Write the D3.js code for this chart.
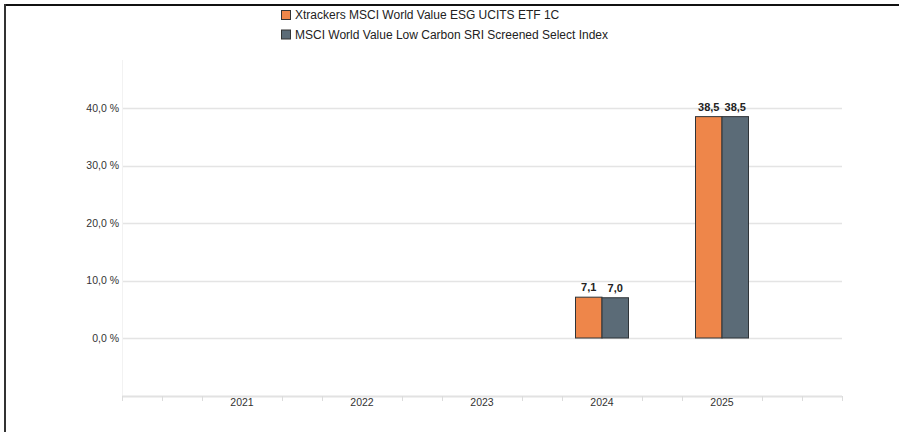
<!DOCTYPE html>
<html>
<head>
<meta charset="utf-8">
<script src="https://cdn.jsdelivr.net/npm/d3@7"></script>
<style>
  body { margin: 0; background: #fff; }
  svg { font-family: "Liberation Sans", Arial, sans-serif; }
</style>
</head>
<body>
<div id="chart"></div>
<script>
var years = ['2021', '2022', '2023', '2024', '2025'];
var seriesNames = ['Xtrackers MSCI World Value ESG UCITS ETF 1C', 'MSCI World Value Low Carbon SRI Screened Select Index'];
var fundValues = [null, null, null, 7.1, 38.5];
var indexValues = [null, null, null, 7.0, 38.5];
var yTicks = [0, 10, 20, 30, 40];
var colors = ['#ee864a', '#5b6b77'];

var svg = d3.select('#chart')
  .append('svg')
  .attr('width', 899)
  .attr('height', 432);

// frame lines
svg.append('line').attr('x1', 5).attr('x2', 899).attr('y1', 5).attr('y2', 5)
  .attr('stroke', '#111').attr('stroke-width', 2);
svg.append('line').attr('x1', 5).attr('x2', 5).attr('y1', 4).attr('y2', 432)
  .attr('stroke', '#333').attr('stroke-width', 2);

var left = 122, right = 842;
var xScale = d3.scaleBand().domain(years).range([left, right]).paddingOuter(0.5).paddingInner(0);
var yScale = d3.scaleLinear().domain([-10, 40]).range([395.5, 108]);
var sub = d3.scaleBand().domain([0, 1]).range([-26.5, 26.5]);

// grid
svg.append('g').selectAll('line')
  .data(yTicks).enter().append('line')
  .attr('x1', left).attr('x2', right)
  .attr('y1', function(d) { return Math.round(yScale(d)) + 0.5; })
  .attr('y2', function(d) { return Math.round(yScale(d)) + 0.5; })
  .attr('stroke', '#e4e4e4').attr('stroke-width', 1.5);

svg.append('line').attr('x1', left + 0.5).attr('x2', left + 0.5).attr('y1', 60).attr('y2', 396)
  .attr('stroke', '#f2f2f2');

svg.append('g').selectAll('text')
  .data(yTicks).enter().append('text')
  .attr('x', 119)
  .attr('y', function(d) { return yScale(d); })
  .attr('dy', '0.35em')
  .attr('text-anchor', 'end')
  .style('font-size', '10.5px')
  .style('fill', '#333')
  .text(function(d) { return d.toFixed(1).replace('.', ',') + ' %'; });

// x axis
svg.append('line').attr('x1', left).attr('x2', right).attr('y1', 396.5).attr('y2', 396.5)
  .attr('stroke', '#e2e2e2').attr('stroke-width', 2);
var minor = d3.range(left, right + 1, 40).filter(function(x) {
  return !years.some(function(y) { return Math.abs(xScale(y) + xScale.bandwidth() / 2 - x) < 1; });
});
svg.append('g').selectAll('line')
  .data(minor).enter().append('line')
  .attr('x1', function(d) { return d + 0.5; }).attr('x2', function(d) { return d + 0.5; })
  .attr('y1', 396).attr('y2', 401)
  .attr('stroke', '#dcdcdc');
svg.append('g').selectAll('text')
  .data(years).enter().append('text')
  .attr('x', function(d) { return xScale(d) + xScale.bandwidth() / 2; })
  .attr('y', 406)
  .attr('text-anchor', 'middle')
  .style('font-size', '10.5px')
  .style('fill', '#333')
  .text(function(d) { return d; });

// bars
var allSeries = [fundValues, indexValues];
allSeries.forEach(function(vals, s) {
  var data = years.map(function(y, i) { return {year: y, value: vals[i]}; })
    .filter(function(d) { return d.value !== null; });
  var g = svg.append('g');
  g.selectAll('rect').data(data).enter().append('rect')
    .attr('x', function(d) { return xScale(d.year) + xScale.bandwidth() / 2 + sub(s); })
    .attr('width', sub.bandwidth())
    .attr('y', function(d) { return yScale(d.value); })
    .attr('height', function(d) { return yScale(0) - yScale(d.value); })
    .attr('fill', colors[s])
    .attr('stroke', '#2f3438').attr('stroke-width', 1);
  g.selectAll('text').data(data).enter().append('text')
    .attr('x', function(d) { return xScale(d.year) + xScale.bandwidth() / 2 + sub(s) + sub.bandwidth() / 2; })
    .attr('y', function(d) { return yScale(d.value) - 6; })
    .attr('text-anchor', 'middle')
    .style('font-size', '11px')
    .style('font-weight', 'bold')
    .style('fill', '#222')
    .text(function(d) { return d.value.toFixed(1).replace('.', ','); });
});

// legend
var legend = svg.append('g').selectAll('g')
  .data(seriesNames).enter().append('g')
  .attr('transform', function(d, i) { return 'translate(281,' + (10 + i * 19.5) + ')'; });
legend.append('rect').attr('x', 0.5).attr('y', 0.5).attr('width', 9).attr('height', 9)
  .attr('fill', function(d, i) { return colors[i]; })
  .attr('stroke', '#333');
legend.append('text').attr('x', 14).attr('y', 5).attr('dy', '0.35em')
  .style('font-size', '12px').style('fill', '#222')
  .text(function(d) { return d; });
</script>
</body>
</html>
